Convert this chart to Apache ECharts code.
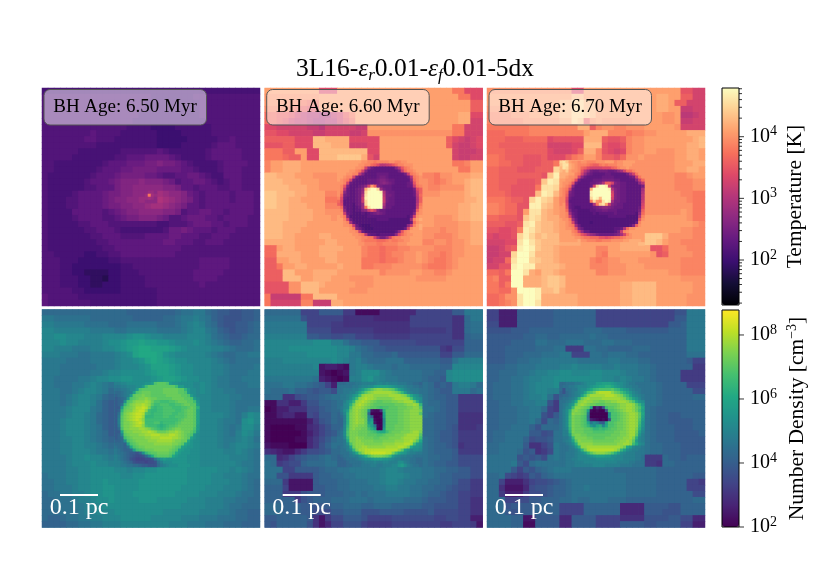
<!DOCTYPE html>
<html lang="en">
<head>
    <meta charset="UTF-8">
    <title>3L16 black hole panels</title>
    <style>html,body{margin:0;padding:0;background:#fff}</style>
</head>
<body>
<div id="container" style="width:830px;height:586px"></div>
<script src="https://cdn.jsdelivr.net/npm/echarts@6/dist/echarts.min.js"></script>
<script type="text/javascript">
// cell values, one character per cell, 0-9a-z = 0..35 along the colour bar
var temp650 = [
"888888888888888888888888888888888888",
"999999999999999999888888899999999999",
"999999999999999998888888889999999999",
"999999999999999998888888889999999999",
"999999999999999988888888889999999999",
"999999999999999888888888888999999999",
"999999999999998888777788888899999999",
"99999999a999988888877778888899999999",
"9999999aa9998888888777778888899a9999",
"99999999988888888887777888889aaa9999",
"9999998888888999999a98888889aaaaa999",
"99999888888899aaabbbba988889aaaaa999",
"99888888889aaabbbccdccba988889aaaa99",
"9988888889aaabbccccbbbbaa98889aaa999",
"988888889aaabccccbba99aabba988aaa999",
"98888889aaabcdddedddcb9aabba989aa999",
"988888899aaacddeeeeeddcaa9aaa99aa999",
"988889aaaabccddeefggfeedba9aaaa9aaa9",
"988899aaaabcddeefgghgfedca9aaaa9aaa9",
"988899aaaabccddeefggfedcaa9aaaaaaaa9",
"98888aaaaa9abcddeeeeddc9aabbaa9aaaa9",
"988889aaaa99abccdddcb99abbbaa9aaaa99",
"98888899aaa9999999988999abbbaa9aaa99",
"988888899aaa988888889bbcbaaa9aaa9999",
"9888888899aaa9999aaaabbaaa99aaa99999",
"98888888899aaaaaaaaabbaaa99aaa999999",
"988888888899aaaaaaaaaaa9999999999999",
"9988888778899aaaaaaaaa99999999999999",
"99988877777889999999999999aaaaa99999",
"99988777777778899999999999aaaaa99999",
"9998877666677888999999999aaaaa999999",
"9998887766577888899999999aaaa9999999",
"99988877667778888999999999a999999999",
"999998877777788888899999999999999999",
"a99999888888888888899999999999999999",
"a99999998888888888899999999999999999"];
var temp650Core = ["effe","fpgf","fgfe","eeee"];

var temp660 = [
"ssssssssslllssssssssssssssssssspplll",
"rrrrrrrrrssssssssssssssssssssssspplll",
"rrrrqqpoosssssssssssssssssssssssssnn",
"qqqqponmmsssssssssssssssssssssssssnn",
"oonnmkjiihhjknpsssssssssssssssssttll",
"oonmkjjihhiikmosssssssssssssssssttkk",
"llkkkkkjjikkkkkjjssssssssssssssppkkk",
"mmllkkkkjjkkkkjjkrrrrrrrrrrrrrrppkkk",
"nnnnnllluuttttlllllsssssssssssnlkjkl",
"mmmnnllluuutttkkkllsssssssssssnkjjkl",
"pppnnsslluuuuuuuullsssssssssssskjjjks",
"ppponnslluuuvvvvtmksssssssssssskjjkkt",
"qsstttssssssttttsssssssssssssssppqss",
"qsstttsssssstttsssssssssssssssssppss",
"uutttsssrrrrssssssssssssssqqprrssstt",
"uuutttsssrrrssssssssssssssrqpqrsstuu",
"uuuutttssrrrssssssssssssssrqqrrrrtuu",
"vvuuuttsssqqssssssssssssssrrrsssstuu",
"vvuuttsssspppssssssssssssssssssssttuu",
"vvuutttsssqqssssssssssssssssssssttuu",
"uuuuttttssrrssssssssssssssssssssttuu",
"uuuuttttsssrssssssssssssssssrrrsttuu",
"uuuttttsssssssssssssssssssssrrrrsstt",
"uuutttssssssssssssssssssssrrrqrrsstt",
"uuuttssssttsssssssssssssssrrqqqrsstt",
"tttttsssssttssssssssssssssqqrrqrrstt",
"oosttsssstttt sssqppoppqqrrrrqqqrrsss".replace(" ",""),
"oottttssstttssssqppopqqrrsrqqpqrrsss",
"nnssttssssttsssspppoppqrrsrqppqrssss",
"nnpssttssssstsssppqqqrrrrrqpppqrssss",
"nnnuussstttts ssssssqrrrrssrrqqrsssss".replace(" ",""),
"nnnuuusstttsssrrrrsssssssrrrrrssssss",
"mmmmrruuutsssssrrrsssssssssssssssssss",
"mmmmrruuusssssrrrsssssssssssssssssss",
"pjjjjjppuuuussssssssssssssssssssssss",
"pkkkkkqqjjjttsssssssssssssssssssssss"];
var temp660Core = [
"ssssssssrrqqpqqqqrrqqrrsssss",
"sssssssrrqqonliijkmoqqrrrsss",
"ssssssrrqkebaaaaaaadhmpqrsss",
"ssssrrqpkdaaaaaaaaaacjoqqrss",
"sssrrqqidaaaabbbbaaaaacjpqrs",
"ssrqqkcaaaaaabccbaaaaaabhpqr",
"srqpkbaaaabbbcddcbbaaaaaeoqr",
"rrqkbaaaaabbbcdedcbaaaabcmqr",
"rqmdaaabceksodcbbbaaaaabbjpq",
"rqibaabcetxzzwfcbbaaaaaaacln",
"rpebaabcfwzzzzyhcbbaaaaaabjn",
"rncbaabchxzzzzziccbaaaaaabio",
"qlbaaabcjyzzzzzjcbbaaaaaaahn",
"okaaaabcjwzzzzzjcbbaaaaaaahn",
"nlaaa9bcfwzzzzzhbbbaaaaaaaip",
"qocaa9abfpxzzzzfbbaaaaaaaajq",
"rqeaa9aadejmjdbbaaaaaaaaabnr",
"rrjba999a9abcdcbaaaaaaaaadqr",
"srpd999999aaaaaaaaaaaaa9bkrs",
"ssqkb99999999aaaa9999999fqst",
"ssrqga999999999999999999borst",
"ssrrqjb9888999999999999ejqst",
"ssssrpdb98889999999999bkrsst",
"ssssrrqjb9999999999aemqrssss",
"sssssrrqpibaa9aaaaaeloqrrsss",
"ssssssrrqqppkfccfkpqqrrrssss",
"sssssssrqppppooopqppqqrrssss",
"sssssssrrqqqqppqqqqqrrrsssss"];

var temp670 = [
"rrrrrrrrrrrrrrllssssssssssssssssmmkk",
"ssssssssssssssuussssssssssssttssnnkk",
"ssssssssssssuuwwuussssssssssttsnnkk",
"rrrrssssssssuuwwuussssssssssttssjjkk",
"qqqqrrrsssssuuwwvusssssssssssrrsiijk",
"qqqqqqrrrrrrttwvnrsrrrrrsssssrrsjjkk",
"pppppppqqqqqqqqttnqrrqqrrrsssssrkkkk",
"oooppppqqqqqqqqqstttqqqpqqrrsssssttt",
"ooonnnoooolmmmmmtttnmmnqrrsssssssstuu",
"oonnnnnnnnkkkkll uuumllmqrrsssssssttu".replace(" ",""),
"ooonnnnnnnlkkklnttqmlklqrrssrrrsstts",
"pponnnmmmnlllnpqssqnnmorrsrrrrrsstts",
"ppoonnmmmnnppvwwsssrrrrrrrrrrrrssstt",
"oonnnmmmnnnwyxusrrrrrrrrrrrrrrrsstts",
"oonnnnnnnmvyxtsrrrrrrrrrrrrrrrrqqrss",
"oonnnmmmnvyxvtsrrrrrrrrrrrrrrrrqqqrr",
"oonnmmmmpxxwtssrrrrrrrrrrrrrrrrqqqrr",
"ooonmmmmuyxusssrrrrrrrrrrrrrrrrrqqpp",
"ppponnmwywvsrrsrrrrrrrrrrrrrrrrrrqpp",
"qqpoommyyvussrrrrrrrrrrrrrrrrrrrrrpp",
"qqpoomsxxutstssrrrrrrrrrrrrrrrrrsrpp",
"oonnnmvxwutttssssssssssssssssssssrpp",
"nnnmmnxyvuutssssssssssssssssssssssrqq",
"mmllmqyxvuuttttsssssssssssssssssrrqq",
"lkllmwywuvuuttssttuuuuuuuuvvvtrrrrqq",
"kkkllxzxvuuuutsttuuuuuuuuuvvusrrqqqq",
"jjkmnyzyvuutssssssqqsstttttmmorrrqq",
"jjkkwzzxuuutssssssqpsssssssrmnrrrrqq",
"jkkoxzzwvuutsssssqpqrrsssrrrrrrrqqq",
"kkmmyzyyuuuutssssqqqrrrsssrrrrrrqqq",
"oonpzzxtsuutssssssqqrrrsssssssrrqqq",
"pqnnzztttuvvusssssssssssssssssssrrrr",
"ppnpzztttuvvusssssssssttuuuussssssrrr",
"ppoorzzzyuuvtsssssssssttuuuussssssrr",
"ooprrxzzyttttttsssssssttuuuusssssrrr",
"oopqrxzzxttttttsssssssttuuuusssssrrr"];
var temp670Core = [
"wxvsrrqrrqqqrrrsssqrrssssrrr",
"vxxtsrqqqponnpqpqqqrrsssrrrr",
"uxwtsrqonlkkkklllnoqrrsrrrrr",
"utvsrrqmifcbbcccbbcegkooqrrr",
"tttssqpkfcbaaaabbaaaaacgkprr",
"ttsrrqkebaaaaabbbbaaaaabcjpr",
"ssrrqlcaaaabbbccccbbaaaaadjo",
"srrqmcaaaabbcdhnnkdcbbaaaaei",
"srqoeaaaaabkwzzykdccbbaaaaac",
"rqpjbaaaaatzzzzzyhdcbbaaaaag",
"rqodbaaaaayzzzzzzkdcbbaaaaah",
"rqncbaaaaayzzzzzzldcbbaaaaai",
"qqlbaaaaaawzyuzzzkdcbbaaaaai",
"qqkaaaaaaapwrqxzygccbbaaaaaj",
"qrlbaaaaaaahpvxsjdcbbaaaaaak",
"rrmba99aaaabcdeedcbbbaaaaabl",
"rrodaa9999aabbccbbbaaaaaaacn",
"rrqgba99999a9aaaaabaaaaaa9eo",
"rrqkca9999999999aaaaaa9999hq",
"srrpfb99999999999999999999mr",
"ssrqkc9999899999999999999bqs",
"ssrqpgb9999999999999999adnrs",
"ssrrqmdb9999999999aabhorrss",
"ssssqpkfbb99999999acjqrssss",
"ssssrqpmkhfecbbbbbcdgkprssss",
"sssssrrqppooommlmnoopqrrssss",
"sssssstrrqqqppqqqrrrrsstttts",
"tttttttsssssssssssssttttttuu"];

var dens650 = [
"ccccccccccccccbbbbbbbbcddeecbaa99aab",
"eeddddddcccccccbbbbbccdeefedba999aab",
"ffeeeeeddddcccdddddcccdefgfdca99aabc",
"ggffffffeeeeddeeeeeddddefggedba9aabc",
"gghhgggfffgggghiihggffffgggfdcbaabcc",
"ggghggffffghhijjkjjiihggghgfedcbbccd",
"ggfffeeeffgghijkllkkkjihggggffedcccd",
"fffeeeddeeeefghklllkihgggggfedccddee",
"eeeeddddeeeefgghiklkjihhggggfedcdddd",
"eeeddddddeeefggghikkkjihhgggffedddde",
"eeedddddeefgghhhhijkkjihhgggffedddee",
"eeddddeefgghhiihhhijkkjihhggfeeddeee",
"eedddeefgfedhhhhhhhhhhhhhhhgfeedddee",
"eeeddefggfechhhhhhhhhhhhhhhgffeedddd",
"eeedefggfecbhhhhhhhhhhhhhhggfffeeddd",
"eeedefggfdbahhhhhhhhhhhhhhggfffedddd",
"eeeefgggedbahhhhhhhhhhhhhhggfffeddee",
"eeeefggfecbahhhhhhhhhhhhhhggggfedfhg",
"eeefgggfecbahhhhhhhhhhhhhhgggfeedhig",
"eeefgggfedbahhhhhhhhhhhhhhgggfedehhf",
"eeefgggfedcahhhhhhhhhhhhhhgggfedfhge",
"eeeffggfedcbhhhhhhhhhhhhhhgggfeefgfd",
"eeeffggffedchhhhhhhhhhhhhhgggfefggfe",
"eeeffgggfeedhhhhhhhhhhhhhhggggffgfed",
"eeeefgghggfehhhhhhhhhhhhhhgggggfffed",
"eeeefggghggfhhhhhhhhhhhhhhggggggfeed",
"eeeeffgghhhhggfgghhiiiiihhhhhggfgfed",
"deeeffgghhhhhgghhiiiiiiihhhhggfffedd",
"ddeeffgghhihhhhhiiiiiiiihhhhgggffedc",
"ddeeefgghhiihhhhiiiiiiihhhhgggfffedc",
"cddeeffghhiihhhiiiiiiihhhhgggfffeddc",
"ccdddeffghhihhhhiiihhhhhgggfffeeddcc",
"ccdddeefgghhhhhhhhhhhhhggggfffeddccc",
"cccdddeffggghhhhhhhhggggggfffeedccbb",
"cbbcddeeffggghhhhhgggggfffeeedddccbb",
"bbbbccddeefffggggggggfffeeedddcccbbb"];
var dens650Core = [
"ffgghhhhhhiijpqqqpjiihhhhhgg",
"eeffggghhjoqqqqqqqqqojjhhhgg",
"ddeefggjpqqqqqqqrrrrrqqnjhhg",
"ccdeffjpqrrrqqqqrrrrrqqpjhhg",
"bcdefjqrrsrrqqqqqrrrrrqqpjhg",
"abcdipqrsstsrrqqqqqrrrrqqpjh",
"abbhpqstttutrppoooppqrrrqqoi",
"abdnqstuuvutqoopppooppqrrqqj",
"aajqrstvvwvsonoopppoooppqrqm",
"abnrssuvwwtonnooppppoopqrrqk",
"adpstuvwwvponooopppooppqrrqk",
"aeqstuvwwunnnoooppoopppqrrqk",
"afqstuvwvtooooooooooopqrrrqk",
"afqsstuvwuoooppnoooopqrrrrqk",
"aeqsstuvvtpooonmnoppqrrrrrqj",
"acpsstttuutsqponopqrssrrrrpj",
"aakrsstttuuvutrrrsttutsrrqoi",
"abgqrsssttuuvvvuuuvvutsrqpih",
"abcoqrssssttuuuvvvvuutsrqkih",
"bbchpqrsssstttuuuuutssrrlihh",
"cccbkpqrsssssttttttssrqljihh",
"dccbdlpqrrsssssssssrqpkjiihh",
"edcbbcjopqrrrsssssrqpkjiihhh",
"eddcbaa9bhnpqqrrrrqpljiiihhh",
"fedcba9889cglpqqqqpljiiihhhh",
"fedcb98777889dgijiiiiiiihhhh",
"ffedcb98887889dfhhhiiiiihhhh",
"ffeeddccbaa999cefghhhiiiihhh"];

var dens660 = [
"cccccc777aaaa661111444444777777aaeee",
"dddddd977777755555444444777777755cee",
"eeeeeee77776655555555555777777755cdd",
"eeeeeee88886666666555555666666755cdd",
"fffffffaa998899777666666777777755bcc",
"gggggggghhhffdbbaaa88888877777777bbb",
"gggghhhhhhhhggfdcbaa9999999996588bbb",
"ggggggghhhhhggeeccbbbcaaaaaaa77aaccc",
"fffgggggggghgfefdcccdddbbbbbbaadffff",
"ffffffffg23321effedddcddcccccbbggggg",
"fffffffff21012efhhhfedddddccbbghhhhh",
"eeeeeeeed32101ffhigfeeddddcbbaghhhhh",
"dddeeddcba73ffffffffffffffdcabaeffec",
"dcccdbba9aa8ffffffffffffffdcbaaeeecd",
"ccc5589aabcdffffffffffffffdcbbaa6666",
"115533699bbcffffffffffffffdccbaa6666",
"013355588abcffffffffffffffddcbaa6666",
"113442287aacffffffffffffffdcbbaa5555",
"1111111369acffffffffffffffccbbaa5555",
"10000114579bffffffffffffffccbba95556",
"10000013579affffffffffffffccbaa96666",
"1000011468acffffffffffffffdcbaa96666",
"2111000469bdffffffffffffffdcbba95666",
"5432246889acffffffffffffffdcbbba6666",
"cc4579abbcdcffffffffffffffdccbba8888",
"dc6788bcccddffffffffffffffdcbbaa8888",
"ddd77aaaabccddeeeeefggfeeeddccbbaa88",
"dd996666abbccddeeeefgggfeeddcbbaaa88",
"ccc62222abbbccdddeefggfeeddccbba8866",
"bbb72222aabbccddddeeffeeddccbba98866",
"bbb6669aaabbbccdcdddeeeeddcbba997766",
"bbbbb69abbbcccdddcdddddcccbaaa997755",
"cccbbbaa9aabbcccbbcccbbbbbaa99997755",
"cccbbbaa888aabbb999aaaa9999a88887755",
"aabbbbba52688aaa97777888888877887733",
"a9bbbbb952477999766667777777766777622"];
var dens660Core = [
"cccdddeefffffggfgfffeeeddccb",
"dddddeefgghhjkkkkjihggfeeddc",
"ddeeeffhjmoqsttssrqnkigfeeed",
"ddeeffhknqstuuuuuutsqnjgfeed",
"deefgikotuuutttttuuuutsolihf",
"deefhkotuvuutssssstuuuutpkih",
"ddfhjntuvutsrqqrrrssttuuurmh",
"ddghmruvutsrqqqqqqqrrrsttutn",
"deghptuutsrqqpoppqqqrrrssttq",
"cehkrtutsri2115mqqqqrrssttts",
"bdgmstutsrc0000kqqqqrrsstttq",
"bcfmstutsrgb001jqqqqrrsstttt",
"bbfmstuttrhj100gqqqqrrsstttt",
"bbfmstuttrjl200gqqqqrrsstttt",
"bbgnsttssrmke10hqqqrrrsstttt",
"bcgostssrromj00jqqqrrrsstttt",
"cdhpsssrrrqpomlloqrrrssstuus",
"cdhpsssrrrqqqppqrrrssstuuuuq",
"ddgnsstssrrrqqrrrsssstuuuuto",
"ddelssttssssrrrsssstttuuvtql",
"ddehpstttssssssttttuuuvvuoji",
"cdefkrttuuttttttuuuuvvusliih",
"cddfhnsuuvvvvvvvvvvvtqkighhg",
"cdddfhlqtvvwwwwwvvsoljigffee",
"bcddeffhjmprsssrqojhgffeeddd",
"bbcdddefghhijjjiihgffeeeddcc",
"bbbcddddefffgffggfffhhfeddcc",
"bbbccdddeeeffeefffggijhfeddc"];

var dens670 = [
"77333aaaaaabbbbbbb777777777777799eee",
"77333aaaaaabbbbbbb7777777777777aaeee",
"88333aaaaaabbbbbbb777777777777aabeee",
"9999aaabbbbbbbbbcccbbbbaaaaaaabbbeee",
"aaaaaabbccbbcccccdccbbbbbbbbbbbbbeee",
"aaaabbbbddcccdddcccddcccbbbbbbbbbeee",
"aaabbbbbcccdd666ddccbbbbcccbbbbbbeee",
"aaabbbcccdddee777ddcdddccbbbbbbbbddd",
"aaabbccddeeeeeedddddeedddccbbbbbba77",
"bbbccdddeeeeffgffffeefeeeddcbbbbbb66",
"bbcccddeffgghhggghhgggfeeddcbbbb6666",
"bbccddeffgghhhhhhhhggfgfeedcbbbb6666",
"bcccddefggghffffffffffffffddcbbbb777",
"bcccddefggffffffffffffffffddcbbbbb88",
"bcccddeffgd9ffffffffffffffddcbbbbbcc",
"bbccddeeff96ffffffffffffffddcbbbbbbb",
"bbcccddeec76ffffffffffffffdcbbbbbbbb",
"bbcccddee97affffffffffffffdcbbaabbbb",
"bbcccddec8cbffffffffffffffdcbbaaaabb",
"bbccdddb9cccffffffffffffffdcbbbaaabb",
"bccddddaa89dffffffffffffffdcbbbaaaab",
"bccdddb899adffffffffffffffdcbbbaaaaa",
"ccdddda5579effffffffffffffdccbbbaaaa",
"ccdddc9a568effffffffffffffdccbbbaaaa",
"ddddd9a9a8deffffffffffffff666cbbabbb",
"ddddea8cddddffffffffffffff665ccbbbbb",
"dddda7a9bcdeeedddddddcccccccbbbbbbbb",
"ccd8767a9bcddddddddddddcccccbbbbbbaa",
"cc733357889abcdddddddddcccccbbbbb776",
"cc52224899abbcddeddddddcccccbbbbb777",
"cc63336889abbcdddddddddcccccbbbbbb88",
"ccc7788aabbbccdccdddcccbbbbbbbbbbbcc",
"ccc9aaaabbbb7777bbbbbb4444aaaa99bbbb",
"ccca9aaabbbb7777bbbbbb4444aaa999bbbb",
"ccccbb22aaaa44aaaa777755559999aa8844",
"ccccbb11aaaa44aaaa7777aaaa99aaaa7733"];
var dens670Core = [
"ccdddeefghhhjjkkkjihhgfeeddd",
"cddeefggghijkllmmljihgffeedd",
"c9ddeeghhjlnoppppqonljigfeed",
"b9cdefghkopruvvvvtrqomkigfed",
"bccdefgkosuuuuuvvvutspnkhgfe",
"cddefhmrtuttttuuuuuutspnkige",
"ddefhlstuttssrrssttuuutrplih",
"defhjqtutsrrqqqrrrrsttuutqnj",
"deghottsrql1428oqqrsttuutrpl",
"dfhmstsrqk101008ppqrstuutrok",
"dfhntssrqf000000hppqrstuutql",
"dfhosrrqpd000000ippqrstuutqk",
"dfhosrrqpe3210108ppqrstuutpj",
"dfhosrrqplehfbakppqrrstuutoi",
"dfhosrrqpnjhlmglppqrrstuutni",
"dfgnsrrrqqpnnonopqqrrstuusmh",
"dffmsrrrqqqppppqqqrrsstuurkg",
"dffjrssrrqqqqqqqqrrrsstuuqif",
"deegnssssrrqqqqrrrrssttusmgf",
"defgkqtssssrrrrrrrssttutqjgf",
"ddefhmsttttssssssssttuutolhgf",
"dddefimttuuuuuuuuuuutrljgffe",
"dddeefhmruvvvvvvvvusnkhgffee",
"ddeeefghjnqstttsrpmjhgfffeee",
"ddeeefggghijkkkjjhhggffffeed",
"ddeeffgggggghhhhhhgggffffeed",
"ddeeefffgggggggggggffffeeddd",
"ddeeeffffffggggfffffeeeedddd"];

var ages = ["BH Age: 6.50 Myr", "BH Age: 6.60 Myr", "BH Age: 6.70 Myr"];
var tempLogRange = [1.27, 4.79];
var densLogRange = [2, 8.78];
var tempTicks = [2, 3, 4];
var densTicks = [2, 4, 6, 8];
var tempMinorTicks = [20,30,40,50,60,70,80,90,200,300,400,500,600,700,800,900,2000,3000,4000,5000,6000,7000,8000,9000,20000,30000,40000,50000,60000];

var magma = ['#000004','#140e36','#3b0f70','#641a80','#8c2981','#b5367a','#de4968','#f7705c','#fe9f6d','#fecf92','#fcfdbf'];
var viridis = ['#440154','#482475','#414487','#355f8d','#2a788e','#21918c','#22a884','#44bf70','#7ad151','#bddf26','#fde725'];

var FONT = '"Liberation Serif"';
var panelX = [42, 264.7, 487];
var panelY = [88, 309.5];
var SIZE = 218;

var panels = [
    {cells: temp650, core: temp650Core, coreAt: [17, 17, 2], range: tempLogRange, bg: '#54167d'},
    {cells: temp660, core: temp660Core, coreAt: [12, 12, 14], range: tempLogRange, bg: '#fe9f6d'},
    {cells: temp670, core: temp670Core, coreAt: [12, 12, 14], range: tempLogRange, bg: '#fd9668'},
    {cells: dens650, core: dens650Core, coreAt: [12, 12, 14], range: densLogRange, bg: '#2a788e'},
    {cells: dens660, core: dens660Core, coreAt: [12, 12, 14], range: densLogRange, bg: '#395c8c'},
    {cells: dens670, core: dens670Core, coreAt: [12, 12, 14], range: densLogRange, bg: '#33668d'}
];

function decode(rows, n, range) {
    var out = [];
    for (var r = 0; r < n; r++) {
        var row = rows[r].padEnd(n, rows[r][rows[r].length - 1]);
        for (var c = 0; c < n; c++) {
            var level = parseInt(row[c], 36);
            out.push([c, r, range[0] + level / 35 * (range[1] - range[0])]);
        }
    }
    return out;
}

var grids = [], xAxes = [], yAxes = [], series = [];
function addMap(left, top, size, rows, n, range, bg) {
    var idx = grids.length;
    var names = [];
    for (var i = 0; i < n; i++) names.push(i);
    grids.push({left: left, top: top, width: size, height: size, show: !!bg, borderWidth: 0, backgroundColor: bg || 'transparent'});
    xAxes.push({type: 'category', gridIndex: idx, data: names, show: false});
    yAxes.push({type: 'category', gridIndex: idx, data: names, show: false, inverse: true});
    series.push({type: 'heatmap', xAxisIndex: idx, yAxisIndex: idx, data: decode(rows, n, range),
        silent: true, progressive: 0, animation: false});
}

panels.forEach(function (p, i) {
    addMap(panelX[i % 3], panelY[i < 3 ? 0 : 1], SIZE, p.cells, 36, p.range, p.bg);
});
panels.forEach(function (p, i) {
    var cell = SIZE / 36;
    addMap(panelX[i % 3] + p.coreAt[0] * cell, panelY[i < 3 ? 0 : 1] + p.coreAt[1] * cell,
        p.coreAt[2] * cell, p.core, p.core.length, p.range);
});

// colour bar axes, values are log10 of the real quantity
var supStyle = {fontFamily: FONT, fontSize: 14, verticalAlign: 'top', lineHeight: 24, color: '#000'};
var tickLabel = {fontFamily: FONT, fontSize: 20, color: '#000', margin: 11,
    formatter: function (v) { return '10{s|' + Math.round(v) + '}'; },
    rich: {s: supStyle}};

function tickSeries(idx, values, len) {
    series.push({type: 'scatter', xAxisIndex: idx, yAxisIndex: idx, silent: true, clip: false, animation: false,
        symbol: 'rect', symbolSize: [len, 1], symbolOffset: [len / 2, 0], itemStyle: {color: '#000'},
        data: values.map(function (v) { return [1, v]; })});
}

function addBar(top, height, range, ticks, minor, name, nameGap) {
    var idx = grids.length;
    grids.push({left: 722, top: top, width: 17, height: height});
    xAxes.push({type: 'value', gridIndex: idx, show: false, min: 0, max: 1});
    yAxes.push({type: 'value', gridIndex: idx, position: 'right', min: range[0], max: range[1],
        splitLine: {show: false}, axisLine: {show: false}, axisTick: {show: false},
        axisLabel: Object.assign({customValues: ticks}, tickLabel),
        name: name, nameLocation: 'middle', nameRotate: 90, nameGap: nameGap,
        nameTextStyle: {fontFamily: FONT, fontSize: 21.5, color: '#000', rich: {s: supStyle}}});
    tickSeries(idx, ticks, 5);
    if (minor.length) tickSeries(idx, minor.map(Math.log10), 3);
}
addBar(88, 217, tempLogRange, tempTicks, tempMinorTicks, 'Temperature [K]', 45);
addBar(310, 217, densLogRange, densTicks, [], 'Number Density [cm{s|\u22123}]', 46);

function barMap(range, top, colors, seriesIdx) {
    return {type: 'continuous', min: range[0], max: range[1], left: 722, top: top, itemWidth: 17, itemHeight: 217,
        padding: 0, calculable: false, realtime: false, hoverLink: false, text: null, showLabel: false,
        seriesIndex: seriesIdx, inRange: {color: colors}};
}

var graphics = [];
ages.forEach(function (label, i) {
    graphics.push({type: 'rect', z: 100, silent: true, shape: {x: panelX[i] + 2, y: 89.5, width: 162.5, height: 35.5, r: 6},
        style: {fill: 'rgba(255,255,255,0.5)', stroke: '#555', lineWidth: 1}});
    graphics.push({type: 'text', z: 101, silent: true, x: panelX[i] + 83, y: 107.5,
        style: {text: label, fill: '#000', font: '19px ' + FONT, align: 'center', verticalAlign: 'middle'}});
    graphics.push({type: 'line', z: 101, silent: true, shape: {x1: panelX[i] + 18, y1: 495, x2: panelX[i] + 56, y2: 495},
        style: {stroke: '#fff', lineWidth: 2}});
    graphics.push({type: 'text', z: 101, silent: true, x: panelX[i] + 37, y: 508,
        style: {text: '0.1 pc', fill: '#fff', font: '24px ' + FONT, align: 'center', verticalAlign: 'middle'}});
});
[88, 310].forEach(function (top) {
    graphics.push({type: 'rect', z: 100, silent: true, shape: {x: 722, y: top, width: 17, height: 217},
        style: {fill: 'none', stroke: '#000', lineWidth: 1}});
});

var chart = echarts.init(document.getElementById('container'), null, {renderer: 'canvas'});
chart.setOption({
    animation: false,
    backgroundColor: '#fff',
    title: {
        text: '3L16-{e|\u03b5}{b|r}0.01-{e|\u03b5}{b|f}0.01-5dx',
        left: 'center', top: 49,
        textStyle: {fontFamily: FONT, fontSize: 25.5, fontWeight: 'normal', color: '#000',
            rich: {
                e: {fontFamily: FONT, fontSize: 25.5, fontStyle: 'italic', color: '#000'},
                b: {fontFamily: FONT, fontSize: 17, fontStyle: 'italic', verticalAlign: 'bottom', lineHeight: 30, color: '#000'}
            }}
    },
    grid: grids,
    xAxis: xAxes,
    yAxis: yAxes,
    visualMap: [
        barMap(tempLogRange, 88, magma, [0, 1, 2, 6, 7, 8]),
        barMap(densLogRange, 310, viridis, [3, 4, 5, 9, 10, 11])
    ],
    series: series,
    graphic: graphics
});
</script>
</body>
</html>
